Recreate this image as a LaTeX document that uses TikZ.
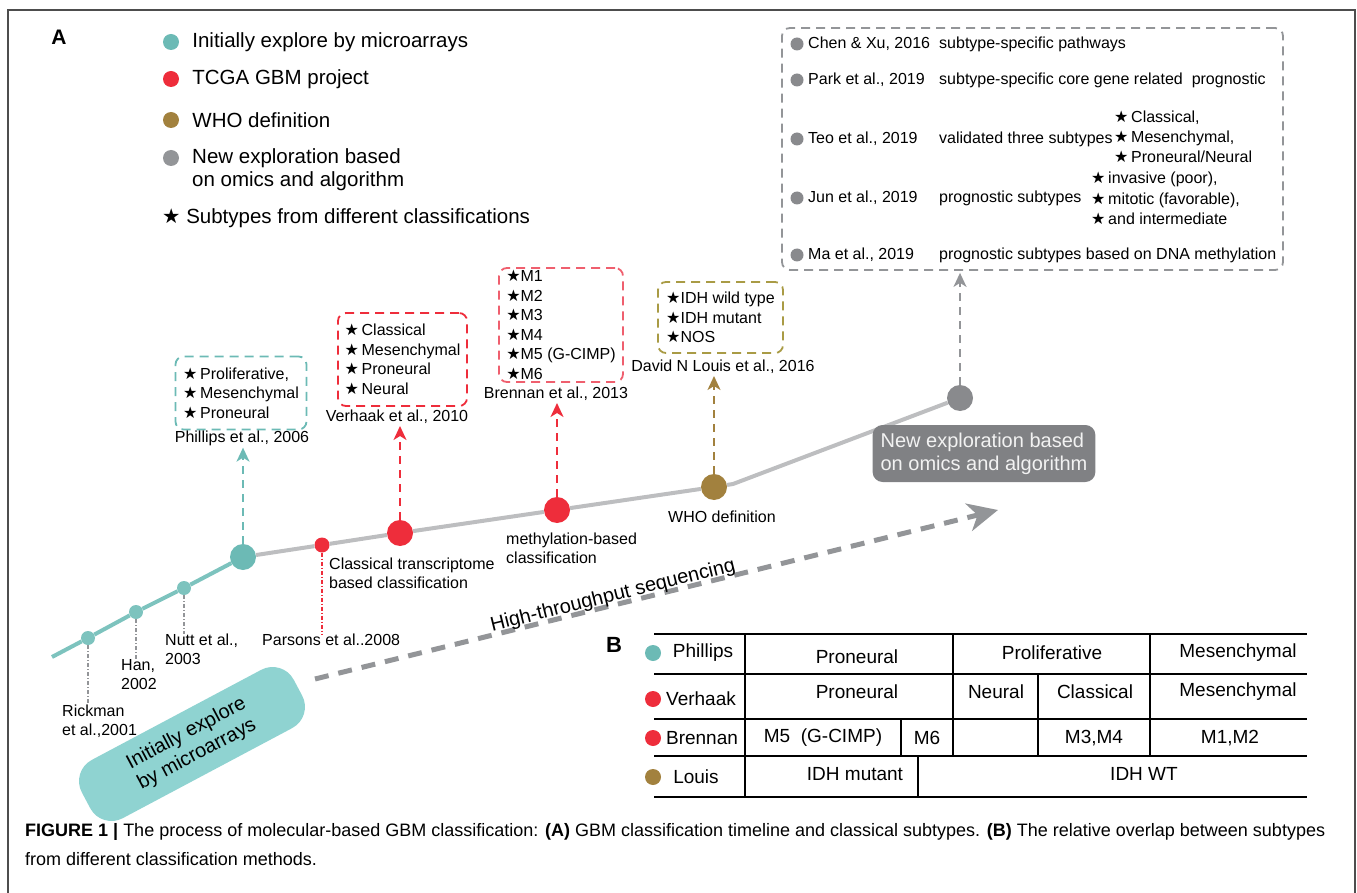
\documentclass[tikz,border=0pt]{standalone}
\usepackage{fontspec}
\setmainfont{Liberation Sans}
\newfontfamily\symfont{DejaVu Sans}
\usetikzlibrary{arrows.meta,positioning,calc}
\definecolor{tealc}{HTML}{6CBAB5}
\definecolor{tealline}{HTML}{7DC3BE}
\definecolor{tealpale}{HTML}{8FD3D1}
\definecolor{redc}{HTML}{EE2D3B}
\definecolor{pinkc}{HTML}{EF5F6E}
\definecolor{brownc}{HTML}{A2813E}
\definecolor{olivec}{HTML}{A99B45}
\definecolor{grayc}{HTML}{898A8D}
\definecolor{grayline}{HTML}{BDBEC0}
\definecolor{grayarrow}{HTML}{939598}
\definecolor{grayfill}{HTML}{808184}
\definecolor{framec}{HTML}{4D4D4D}
\newcommand\starmark{{\symfont ★}}
\newcommand\fsz[2]{\fontsize{#1}{#2}\selectfont}

\begin{document}
\begin{tikzpicture}[x=1pt,y=-1pt,
    dot/.style={circle,fill=#1,inner sep=0pt,minimum size=16pt},
    lab/.style={inner sep=0pt,font=\fsz{16}{19}},
    legtxt/.style={inner sep=0pt,font=\fsz{20.5}{23}},
    subbox/.style={draw=#1,dash pattern=on 9pt off 6pt,line width=1.8pt,rounded corners=8pt,align=left,inner sep=0pt,font=\fsz{16}{19.5}},
    uparrow/.style={draw=#1,line width=2pt,dash pattern=on 8pt off 6pt,shorten >=2pt,-{Stealth[length=14pt,width=13pt,inset=4pt]}},
    drop/.style={draw=#1,line width=1.3pt,dash pattern=on 4pt off 2pt on 1pt off 2pt},
    tab/.style={inner sep=0pt,font=\fsz{19}{22}}]
\useasboundingbox (0,0) rectangle (1357,893);
\draw[framec,line width=1.5pt] (8,893) |- (1355,10) -- (1355,893);

% legend
\node[font=\bfseries\fsz{21}{21}] (pa) at (59,37) {A};
\node[dot=tealc] (l1) at (171,42) {};
\node[legtxt,right=13pt of l1] {Initially explore by microarrays};
\node[dot=redc] (l2) at (171,79) {};
\node[legtxt,right=13pt of l2] {TCGA GBM project};
\node[dot=brownc] (l3) at (171,120) {};
\node[legtxt,right=13pt of l3] {WHO definition};
\node[dot=grayarrow] (l4) at (171,158) {};
\node[legtxt,anchor=west,align=left] at (192,169.5) {New exploration based\\on omics and algorithm};
\node[legtxt,anchor=west] (l5) at (162,218) {\starmark\ Subtypes from different classifications};

% timeline
\coordinate (tstart) at (52,657);
\coordinate (kink) at (733,484);
\node[dot=tealline,minimum size=14pt] (rick) at (88,638) {};
\node[dot=tealline,minimum size=14pt] (han) at (136,612) {};
\node[dot=tealline,minimum size=14pt] (nutt) at (184,588) {};
\node[dot=tealc,minimum size=26pt] (phil) at (243,557) {};
\node[dot=redc,minimum size=15pt] (pars) at (322,545) {};
\node[dot=redc,minimum size=26pt] (verh) at (400,533) {};
\node[dot=redc,minimum size=26pt] (bren) at (557,510) {};
\node[dot=brownc,minimum size=26pt] (who) at (714,487) {};
\node[dot=grayc,minimum size=26pt] (omics) at (960,398) {};
\draw[tealline,line width=4pt] (tstart) -- (rick) -- (han) -- (nutt) -- (phil);
\draw[grayline,line width=4pt] (phil) -- (pars) -- (verh) -- (bren) -- (who) -- (kink) -- (omics);

\node[lab,anchor=north west,align=left] (ricklab) at (62,705) {Rickman\\et al.,2001};
\node[lab,anchor=north west,align=left] (hanlab) at (121,659) {Han,\\2002};
\node[lab,anchor=north west,align=left] (nuttlab) at (165,634) {Nutt et al.,\\2003};
\node[lab,anchor=north west] (parslab) at (262,634) {Parsons et al..2008};
\node[lab,anchor=north west,align=left] (classlab) at (329,558) {Classical transcriptome\\based classification};
\node[lab,anchor=north west,align=left] (methlab) at (506,533) {methylation-based\\classification};
\node[lab,anchor=north west] (wholab) at (668,511) {WHO definition};
\draw[drop=grayarrow] (rick) -- (rick |- ricklab.north);
\draw[drop=grayarrow] (han) -- (han |- hanlab.north);
\draw[drop=grayarrow] (nutt) -- (nutt |- nuttlab.north);
\draw[drop=redc] (pars) -- (pars |- parslab.north);

% subtype boxes
\node[subbox=tealc,minimum width=131pt,minimum height=73pt] (philbox) at (241,393) {\starmark\,Proliferative,\\\starmark\,Mesenchymal\\\starmark\,Proneural};
\node[lab] (phillab) at (242,438) {Phillips et al., 2006};
\node[subbox=redc,minimum width=129pt,minimum height=93pt] (verhbox) at (402.5,359.5) {\starmark\,Classical\\\starmark\,Mesenchymal\\\starmark\,Proneural\\\starmark\,Neural};
\node[lab] (verhlab) at (397,417) {Verhaak et al., 2010};
\node[subbox=pinkc,minimum width=124pt,minimum height=114pt] (brenbox) at (561,325) {\starmark M1\\\starmark M2\\\starmark M3\\\starmark M4\\\starmark M5 (G-CIMP)\\\starmark M6};
\node[lab] (brenlab) at (556,394) {Brennan et al., 2013};
\node[subbox=olivec,minimum width=125pt,minimum height=71pt] (louisbox) at (720.5,317.5) {\starmark IDH wild type\\\starmark IDH mutant\\\starmark NOS};
\node[lab] (louislab) at (723,367) {David N Louis et al., 2016};

\draw[uparrow=tealc] (phil) -- (phil |- phillab.south);
\draw[uparrow=redc] (verh) -- (verh |- verhlab.south);
\draw[uparrow=redc] (bren) -- (bren |- brenlab.south);
\draw[uparrow=brownc] (who) -- (who |- louislab.south);

% new exploration
\node[draw=grayarrow,dash pattern=on 9pt off 6pt,line width=1.8pt,rounded corners=8pt,minimum width=501pt,minimum height=242pt] (topbox) at (1032.5,149) {};
\foreach \y/\a/\b in {44/{Chen \& Xu, 2016}/{subtype-specific pathways},
    80/{Park et al., 2019}/{subtype-specific core gene related\ \ prognostic},
    139/{Teo et al., 2019}/{validated three subtypes},
    198/{Jun et al., 2019}/{prognostic subtypes},
    255/{Ma et al., 2019}/{prognostic subtypes based on DNA methylation}}{
  \node[dot=grayc,minimum size=13pt] at (797,\y) {};
  \node[lab,anchor=west] at (808,\y) {\a};
  \node[lab,anchor=west] at (939,\y) {\b};
}
\node[lab,anchor=west,align=left,font=\fsz{16}{20}] (teolist) at (1114,137) {\starmark\,Classical,\\\starmark\,Mesenchymal,\\\starmark\,Proneural/Neural};
\node[lab,anchor=west,align=left,font=\fsz{16}{20.5}] (junlist) at (1091,198.5) {\starmark\,invasive (poor),\\\starmark\,mitotic (favorable),\\\starmark\,and intermediate};
\draw[uparrow=grayarrow] (omics) -- (omics |- topbox.south);
\node[fill=grayfill,text=white!90!gray,rounded corners=10pt,minimum width=218pt,minimum height=57pt,align=left,inner xsep=8pt,font=\fsz{20}{23}] (omicsbox) at (984,453.5) {New exploration based\\on omics and algorithm};

% sequencing arrow and microarray pill
\coordinate (hs) at (315,679);
\coordinate (he) at (998,510);
\draw[grayarrow,line width=5pt,dash pattern=on 14pt off 10pt,-{Stealth[length=30pt,width=28pt,inset=9pt]}] (hs) -- (he);
\node[rotate=14,inner sep=0pt,font=\fsz{20}{24}] (hstxt) at (613,596) {High-throughput sequencing};
\node[fill=tealpale,rounded corners=24pt,rotate=28,minimum width=240pt,minimum height=66pt,inner sep=2pt,align=left,font=\fsz{20}{23.5}] (pill) at (192,744) {Initially explore\\by microarrays};

% table B
\node[font=\bfseries\fsz{22}{22}] (pb) at (614,645) {B};
\draw[line width=2.5pt] (654,634) -- (1307,634) (654,797) -- (1307,797);
\draw[line width=1.2pt] (654,674) -- (1307,674) (654,719) -- (1307,719) (654,756) -- (1307,756);
\draw[line width=1.2pt] (745,634) -- (745,797) (953,634) -- (953,756) (1150,634) -- (1150,756)
    (1038,674) -- (1038,756) (901,719) -- (901,756) (918,756) -- (918,797);
\foreach \y/\c/\x/\n in {653/tealc/703/Phillips, 699/redc/701/Verhaak, 738/redc/702/Brennan, 777/brownc/696/Louis}{
  \node[dot=\c] at (653,\y) {};
  \node[tab] at (\x,\y) {\n};
}
\node[tab] at (857,657) {Proneural};
\node[tab] at (1052,653) {Proliferative};
\node[tab] at (1238,653) {Mesenchymal};
\node[tab] at (857,692) {Proneural};
\node[tab] at (996,692) {Neural};
\node[tab] at (1095,692) {Classical};
\node[tab] at (1238,692) {Mesenchymal};
\node[tab] at (823,738) {M5\ \ (G-CIMP)};
\node[tab] at (927,738) {M6};
\node[tab] at (1094,738) {M3,M4};
\node[tab] at (1230,738) {M1,M2};
\node[tab] at (855,774) {IDH mutant};
\node[tab] at (1144,774) {IDH WT};

% caption
\node[anchor=north west,align=left,inner sep=0pt,font=\fsz{18}{29}] (cap) at (25,823) {{\bfseries FIGURE 1 |} The process of molecular-based GBM classification: {\bfseries (A)} GBM classification timeline and classical subtypes. {\bfseries (B)} The relative overlap between subtypes\\from different classification methods.};
\end{tikzpicture}
\end{document}
